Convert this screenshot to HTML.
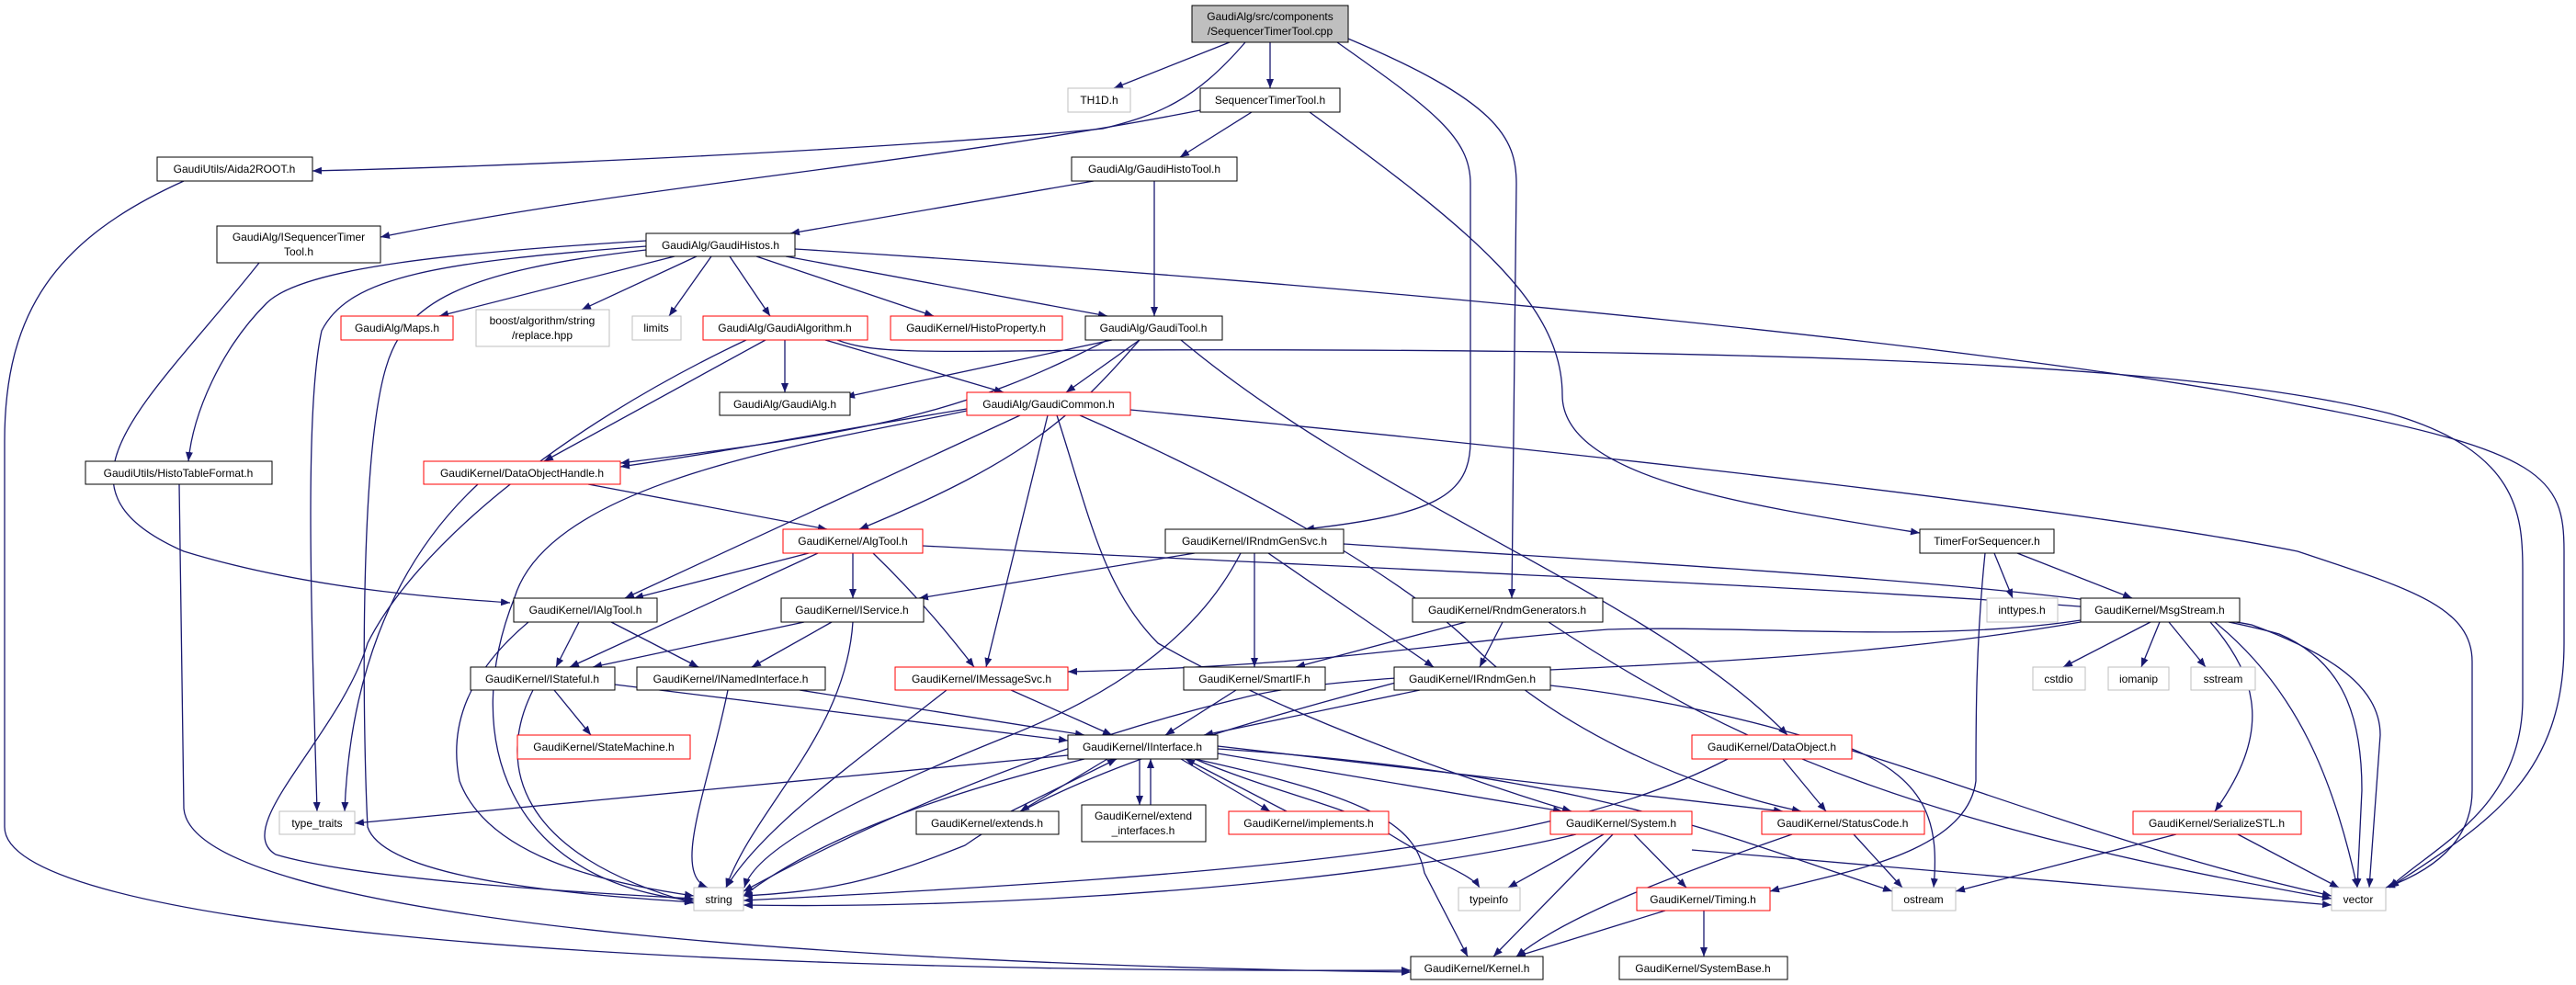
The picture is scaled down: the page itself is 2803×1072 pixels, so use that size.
<!DOCTYPE html>
<html><head><meta charset="utf-8"><style>
html,body{margin:0;padding:0;background:#fff;}
svg{display:block;}
text{font-family:"Liberation Sans",sans-serif;font-size:12px;fill:#000;}
.e{fill:none;stroke:#191970;stroke-width:1.3;marker-end:url(#a);}
.b{fill:#fff;stroke:#000;stroke-width:1;}
.r{fill:#fff;stroke:#ff0000;stroke-width:1;}
.g{fill:#fff;stroke:#bfbfbf;stroke-width:1;}
</style></head><body>
<svg width="2803" height="1072" viewBox="0 0 2803 1072" xmlns="http://www.w3.org/2000/svg">
<defs><marker id="a" markerWidth="10" markerHeight="8" refX="10" refY="4" orient="auto" markerUnits="userSpaceOnUse"><path d="M0,0 L10,4 L0,8z" fill="#191970"/></marker></defs>
<g>
<path class="e" d="M1338 46 L1212 96"/>
<path class="e" d="M1382 46 L1382 96"/>
<path class="e" d="M1355 46 C1300 110,1260 125,1200 140 C1000 160,600 180,340 186"/>
<path class="e" d="M1455 46 C1560 120,1600 150,1600 200 L1600 480 C1600 540,1560 560,1420 576"/>
<path class="e" d="M1462 40 C1630 110,1650 150,1650 200 L1645 651"/>
<path class="e" d="M1362 122 L1284 171"/>
<path class="e" d="M1306 120 C1000 180,700 200,414 258"/>
<path class="e" d="M1425 122 C1600 250,1700 330,1700 430 C1700 520,1900 550,2089 580"/>
<path class="e" d="M1190 197 L860 254"/>
<path class="e" d="M1256 197 L1256 344"/>
<path class="e" d="M200 197 C60 260,5 340,5 480 L5 900 C5 1000,600 1060,1535 1056"/>
<path class="e" d="M282 286 C160 440,40 530,200 600 C330 640,470 650,555 656"/>
<path class="e" d="M734 279 L478 344"/>
<path class="e" d="M758 279 L633 337"/>
<path class="e" d="M774 279 L728 344"/>
<path class="e" d="M794 279 L838 344"/>
<path class="e" d="M823 279 L1016 344"/>
<path class="e" d="M855 279 L1205 344"/>
<path class="e" d="M865 271 C1500 310,2200 380,2500 440 C2770 490,2790 520,2790 600 L2790 700 C2790 850,2700 900,2600 966"/>
<path class="e" d="M703 262 C500 275,330 290,290 330 C240 380,210 450,205 502"/>
<path class="e" d="M703 268 C480 285,380 300,350 360 C330 450,340 700,345 883"/>
<path class="e" d="M703 272 C500 295,440 330,420 400 C390 500,395 800,400 900 C420 960,650 975,755 982"/>
<path class="e" d="M195 527 L200 880 C210 1000,900 1050,1535 1058"/>
<path class="e" d="M854 370 L854 427"/>
<path class="e" d="M898 370 L1092 427"/>
<path class="e" d="M833 370 L592 502"/>
<path class="e" d="M812 370 C600 470,450 600,400 700 C370 800,250 900,300 930 C400 960,700 975,755 978"/>
<path class="e" d="M911 370 C950 385,1000 383,1200 381 C2000 378,2400 400,2600 450 C2740 490,2745 560,2745 620 L2745 760 C2745 880,2650 920,2600 966"/>
<path class="e" d="M1210 370 L920 432"/>
<path class="e" d="M1240 370 L1160 427"/>
<path class="e" d="M1205 370 C1050 450,950 470,675 504"/>
<path class="e" d="M1240 370 C1170 450,1120 500,935 576"/>
<path class="e" d="M1285 370 C1500 550,1800 650,1945 800"/>
<path class="e" d="M1052 445 C900 470,800 490,675 508"/>
<path class="e" d="M1110 452 L680 651"/>
<path class="e" d="M1052 447 C900 480,600 520,560 650 C500 800,550 960,755 980"/>
<path class="e" d="M1140 452 L1073 726"/>
<path class="e" d="M1150 452 C1185 560,1200 640,1260 700 C1400 780,1600 850,1710 883"/>
<path class="e" d="M1175 452 C1400 550,1550 650,1600 700 C1700 800,1850 860,1960 883"/>
<path class="e" d="M1230 446 C1800 500,2300 560,2500 600 C2620 640,2690 660,2690 720 L2690 860 C2690 920,2640 950,2596 966"/>
<path class="e" d="M640 527 L900 576"/>
<path class="e" d="M520 527 C420 620,380 750,375 883"/>
<path class="e" d="M880 602 L690 651"/>
<path class="e" d="M890 602 L620 726"/>
<path class="e" d="M928 602 L928 651"/>
<path class="e" d="M950 602 C1000 650,1040 700,1060 726"/>
<path class="e" d="M1004 594 C1500 620,2300 650,2450 680 C2560 720,2590 760,2590 800 L2578 966"/>
<path class="e" d="M1300 602 L1000 651"/>
<path class="e" d="M1350 602 C1300 700,1200 760,1100 800 C900 880,820 930,810 966"/>
<path class="e" d="M1365 602 L1365 726"/>
<path class="e" d="M1380 602 L1560 726"/>
<path class="e" d="M1462 592 C1900 620,2300 640,2480 690 C2550 720,2570 780,2570 860 L2565 966"/>
<path class="e" d="M2170 602 L2190 651"/>
<path class="e" d="M2195 602 L2320 651"/>
<path class="e" d="M2160 602 C2150 700,2150 780,2150 850 C2140 930,2000 950,1926 970"/>
<path class="e" d="M630 677 L605 726"/>
<path class="e" d="M665 677 L760 726"/>
<path class="e" d="M575 677 C500 740,490 800,500 850 C530 930,650 960,755 975"/>
<path class="e" d="M875 677 L645 726"/>
<path class="e" d="M905 677 L818 726"/>
<path class="e" d="M928 677 C920 800,820 880,790 966"/>
<path class="e" d="M1595 677 L1410 726"/>
<path class="e" d="M1635 677 L1610 726"/>
<path class="e" d="M1685 677 C1900 820,2100 900,2537 978"/>
<path class="e" d="M2264 675 C2100 700,1900 680,1750 685 C1550 700,1450 725,1162 731"/>
<path class="e" d="M2264 677 C1900 740,1500 720,1350 760 C1100 820,900 920,809 970"/>
<path class="e" d="M2340 677 L2245 726"/>
<path class="e" d="M2350 677 L2330 726"/>
<path class="e" d="M2360 677 L2400 726"/>
<path class="e" d="M2405 677 C2460 740,2470 800,2410 883"/>
<path class="e" d="M2410 677 C2500 750,2540 850,2565 966"/>
<path class="e" d="M603 751 L643 800"/>
<path class="e" d="M580 751 C540 830,560 930,755 983"/>
<path class="e" d="M669 745 L1162 806"/>
<path class="e" d="M870 751 L1180 800"/>
<path class="e" d="M792 751 C770 860,730 950,770 966"/>
<path class="e" d="M1100 751 L1210 800"/>
<path class="e" d="M1030 751 C930 830,830 900,790 966"/>
<path class="e" d="M1345 751 L1268 800"/>
<path class="e" d="M1545 751 L1310 800"/>
<path class="e" d="M1530 740 C1300 800,1150 850,1050 920 C950 960,900 970,809 975"/>
<path class="e" d="M1687 746 C2000 780,2200 900,2537 975"/>
<path class="e" d="M1162 822 L386 896"/>
<path class="e" d="M1205 826 L1110 883"/>
<path class="e" d="M1100 883 L1215 826"/>
<path class="e" d="M1240 826 L1240 876"/>
<path class="e" d="M1252 876 L1252 826"/>
<path class="e" d="M1285 826 L1382 883"/>
<path class="e" d="M1400 883 L1290 826"/>
<path class="e" d="M1325 820 L1700 883"/>
<path class="e" d="M1325 812 L1940 883"/>
<path class="e" d="M1300 826 C1380 860,1470 880,1500 900 C1560 940,1600 950,1610 966"/>
<path class="e" d="M1325 815 C1700 840,1850 900,2000 950 L2059 970"/>
<path class="e" d="M1300 826 C1500 870,1540 900,1550 950 L1597 1041"/>
<path class="e" d="M1180 826 C1000 870,880 920,809 975"/>
<path class="e" d="M1940 826 L1987 883"/>
<path class="e" d="M2015 815 C2100 850,2110 900,2104 966"/>
<path class="e" d="M1880 826 C1700 920,1400 950,809 980"/>
<path class="e" d="M1715 908 C1500 960,1100 990,809 985"/>
<path class="e" d="M1745 908 L1641 966"/>
<path class="e" d="M1755 908 L1625 1041"/>
<path class="e" d="M1778 908 L1835 966"/>
<path class="e" d="M1841 925 L2537 985"/>
<path class="e" d="M2017 908 L2070 966"/>
<path class="e" d="M1950 908 C1800 960,1700 1000,1650 1041"/>
<path class="e" d="M2368 908 L2128 970"/>
<path class="e" d="M2435 908 L2545 966"/>
<path class="e" d="M1812 991 L1650 1041"/>
<path class="e" d="M1854 991 L1854 1041"/>
</g>
<g text-anchor="middle">
<rect x="1297" y="6" width="170" height="40" fill="#bfbfbf" stroke="#000"/><text x="1382" y="22">GaudiAlg/src/components</text><text x="1382" y="38">/SequencerTimerTool.cpp</text>
<rect class="g" x="1162" y="96" width="68" height="26"/><text x="1196" y="113">TH1D.h</text>
<rect class="b" x="1306" y="96" width="152" height="26"/><text x="1382" y="113">SequencerTimerTool.h</text>
<rect class="b" x="171" y="171" width="169" height="26"/><text x="255" y="188">GaudiUtils/Aida2ROOT.h</text>
<rect class="b" x="1166" y="171" width="180" height="26"/><text x="1256" y="188">GaudiAlg/GaudiHistoTool.h</text>
<rect class="b" x="236" y="246" width="178" height="40"/><text x="325" y="262">GaudiAlg/ISequencerTimer</text><text x="325" y="278">Tool.h</text>
<rect class="b" x="703" y="254" width="162" height="25"/><text x="784" y="271">GaudiAlg/GaudiHistos.h</text>
<rect class="r" x="371" y="344" width="122" height="26"/><text x="432" y="361">GaudiAlg/Maps.h</text>
<rect class="g" x="518" y="337" width="145" height="40"/><text x="590" y="353">boost/algorithm/string</text><text x="590" y="369">/replace.hpp</text>
<rect class="g" x="688" y="344" width="53" height="26"/><text x="714" y="361">limits</text>
<rect class="r" x="765" y="344" width="179" height="26"/><text x="854" y="361">GaudiAlg/GaudiAlgorithm.h</text>
<rect class="r" x="969" y="344" width="187" height="26"/><text x="1062" y="361">GaudiKernel/HistoProperty.h</text>
<rect class="b" x="1181" y="344" width="149" height="26"/><text x="1255" y="361">GaudiAlg/GaudiTool.h</text>
<rect class="b" x="783" y="427" width="142" height="25"/><text x="854" y="444">GaudiAlg/GaudiAlg.h</text>
<rect class="r" x="1052" y="427" width="178" height="25"/><text x="1141" y="444">GaudiAlg/GaudiCommon.h</text>
<rect class="b" x="93" y="502" width="203" height="25"/><text x="194" y="519">GaudiUtils/HistoTableFormat.h</text>
<rect class="r" x="461" y="502" width="214" height="25"/><text x="568" y="519">GaudiKernel/DataObjectHandle.h</text>
<rect class="r" x="852" y="576" width="152" height="26"/><text x="928" y="593">GaudiKernel/AlgTool.h</text>
<rect class="b" x="1268" y="576" width="194" height="26"/><text x="1365" y="593">GaudiKernel/IRndmGenSvc.h</text>
<rect class="b" x="2089" y="576" width="146" height="26"/><text x="2162" y="593">TimerForSequencer.h</text>
<rect class="b" x="559" y="651" width="156" height="26"/><text x="637" y="668">GaudiKernel/IAlgTool.h</text>
<rect class="b" x="850" y="651" width="155" height="26"/><text x="927" y="668">GaudiKernel/IService.h</text>
<rect class="b" x="1537" y="651" width="207" height="26"/><text x="1640" y="668">GaudiKernel/RndmGenerators.h</text>
<rect class="g" x="2162" y="651" width="77" height="26"/><text x="2200" y="668">inttypes.h</text>
<rect class="b" x="2264" y="651" width="173" height="26"/><text x="2350" y="668">GaudiKernel/MsgStream.h</text>
<rect class="b" x="512" y="726" width="157" height="25"/><text x="590" y="743">GaudiKernel/IStateful.h</text>
<rect class="b" x="693" y="726" width="205" height="25"/><text x="795" y="743">GaudiKernel/INamedInterface.h</text>
<rect class="r" x="974" y="726" width="188" height="25"/><text x="1068" y="743">GaudiKernel/IMessageSvc.h</text>
<rect class="b" x="1288" y="726" width="154" height="25"/><text x="1365" y="743">GaudiKernel/SmartIF.h</text>
<rect class="b" x="1517" y="726" width="170" height="25"/><text x="1602" y="743">GaudiKernel/IRndmGen.h</text>
<rect class="g" x="2212" y="726" width="57" height="25"/><text x="2240" y="743">cstdio</text>
<rect class="g" x="2294" y="726" width="66" height="25"/><text x="2327" y="743">iomanip</text>
<rect class="g" x="2384" y="726" width="70" height="25"/><text x="2419" y="743">sstream</text>
<rect class="r" x="563" y="800" width="188" height="26"/><text x="657" y="817">GaudiKernel/StateMachine.h</text>
<rect class="b" x="1162" y="800" width="163" height="26"/><text x="1243" y="817">GaudiKernel/IInterface.h</text>
<rect class="r" x="1841" y="800" width="174" height="26"/><text x="1928" y="817">GaudiKernel/DataObject.h</text>
<rect class="g" x="304" y="883" width="82" height="25"/><text x="345" y="900">type_traits</text>
<rect class="b" x="997" y="883" width="155" height="25"/><text x="1074" y="900">GaudiKernel/extends.h</text>
<rect class="b" x="1177" y="876" width="135" height="40"/><text x="1244" y="892">GaudiKernel/extend</text><text x="1244" y="908">_interfaces.h</text>
<rect class="r" x="1337" y="883" width="174" height="25"/><text x="1424" y="900">GaudiKernel/implements.h</text>
<rect class="r" x="1687" y="883" width="154" height="25"/><text x="1764" y="900">GaudiKernel/System.h</text>
<rect class="r" x="1917" y="883" width="177" height="25"/><text x="2005" y="900">GaudiKernel/StatusCode.h</text>
<rect class="r" x="2321" y="883" width="183" height="25"/><text x="2412" y="900">GaudiKernel/SerializeSTL.h</text>
<rect class="g" x="755" y="966" width="54" height="25"/><text x="782" y="983">string</text>
<rect class="g" x="1587" y="966" width="67" height="25"/><text x="1620" y="983">typeinfo</text>
<rect class="r" x="1781" y="966" width="145" height="25"/><text x="1853" y="983">GaudiKernel/Timing.h</text>
<rect class="g" x="2059" y="966" width="69" height="25"/><text x="2093" y="983">ostream</text>
<rect class="g" x="2537" y="966" width="59" height="25"/><text x="2566" y="983">vector</text>
<rect class="b" x="1535" y="1041" width="144" height="25"/><text x="1607" y="1058">GaudiKernel/Kernel.h</text>
<rect class="b" x="1762" y="1041" width="183" height="25"/><text x="1853" y="1058">GaudiKernel/SystemBase.h</text>
</g>
</svg>
</body></html>
